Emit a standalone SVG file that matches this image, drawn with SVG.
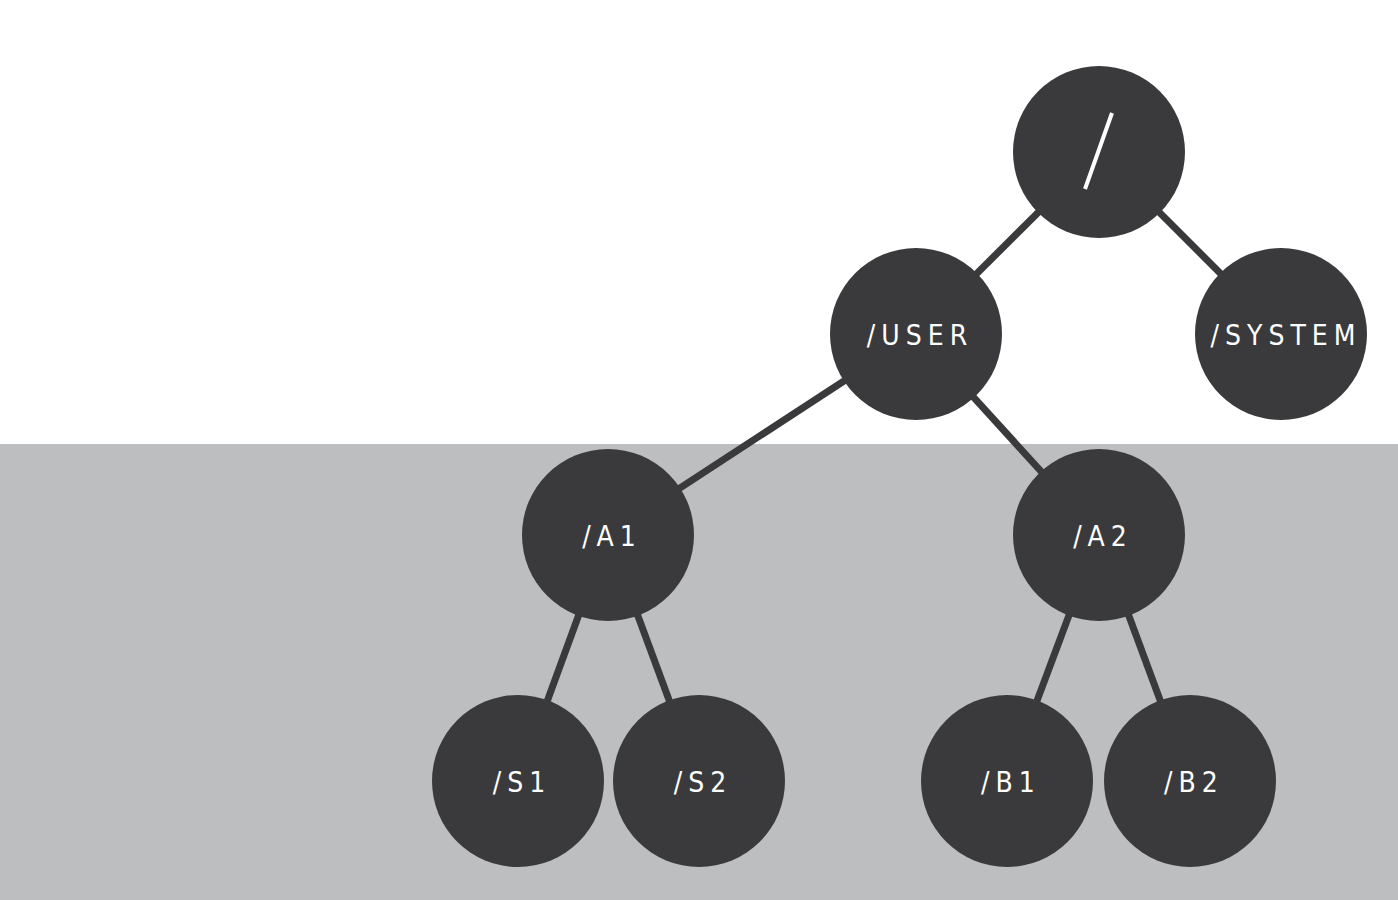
<svg xmlns="http://www.w3.org/2000/svg" width="1398" height="900" viewBox="0 0 1398 900">
<style>
.n{fill:#3a3a3c}
.e{stroke:#3a3a3c;stroke-width:7}
.t{fill:#ffffff;font-family:"DejaVu Sans Condensed",sans-serif;font-size:28px;letter-spacing:6px;text-anchor:middle}
</style>
<rect x="0" y="0" width="1398" height="900" fill="#ffffff"/>
<rect x="0" y="444" width="1398" height="456" fill="#bdbec0"/>
<g id="edges">
<line class="e" x1="1099" y1="152" x2="916" y2="334"/>
<line class="e" x1="1099" y1="152" x2="1281" y2="334"/>
<line class="e" x1="916" y1="334" x2="608" y2="535"/>
<line class="e" x1="916" y1="334" x2="1099" y2="535"/>
<line class="e" x1="608" y1="535" x2="518" y2="781"/>
<line class="e" x1="608" y1="535" x2="699" y2="781"/>
<line class="e" x1="1099" y1="535" x2="1007" y2="781"/>
<line class="e" x1="1099" y1="535" x2="1190" y2="781"/>
</g>
<g id="root"><circle class="n" cx="1099" cy="152" r="86"/><line x1="1112" y1="113" x2="1085" y2="189" stroke="#fff" stroke-width="4"/></g>
<g id="user"><circle class="n" cx="916" cy="334" r="86"/><text class="t" x="920" y="345">/USER</text></g>
<g id="system"><circle class="n" cx="1281" cy="334" r="86"/><text class="t" x="1286" y="345">/SYSTEM</text></g>
<g id="a1"><circle class="n" cx="608" cy="535" r="86"/><text class="t" x="612" y="546">/A1</text></g>
<g id="a2"><circle class="n" cx="1099" cy="535" r="86"/><text class="t" x="1103" y="546">/A2</text></g>
<g id="s1"><circle class="n" cx="518" cy="781" r="86"/><text class="t" x="522" y="792">/S1</text></g>
<g id="s2"><circle class="n" cx="699" cy="781" r="86"/><text class="t" x="703" y="792">/S2</text></g>
<g id="b1"><circle class="n" cx="1007" cy="781" r="86"/><text class="t" x="1011" y="792">/B1</text></g>
<g id="b2"><circle class="n" cx="1190" cy="781" r="86"/><text class="t" x="1194" y="792">/B2</text></g>
</svg>
